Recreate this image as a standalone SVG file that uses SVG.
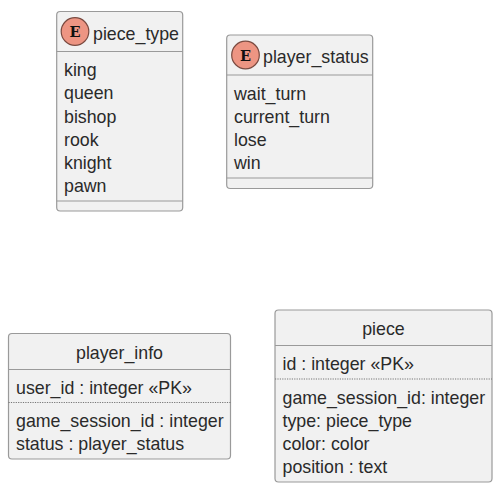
<svg xmlns="http://www.w3.org/2000/svg" width="501" height="488" viewBox="0 0 501 488">
<style>
.b{fill:#f1f1f1;stroke:#9a9a9a;stroke-width:1.2}
.l{stroke:#9a9a9a;stroke-width:1.2;fill:none}
.d{stroke:#777;stroke-width:1.2;fill:none;stroke-dasharray:1.2 1.2}
.c{fill:#ed9583;stroke:#7a4a40;stroke-width:1.2}
text{font-family:"Liberation Sans",Arial,sans-serif;font-size:17.8px;fill:#2a2a2a}
.m{text-anchor:middle}
.e{font-family:"DejaVu Serif",serif;font-weight:bold;font-size:14.5px;text-anchor:middle;fill:#111}
</style>
<rect width="501" height="488" fill="#fff"/>
<g id="connectors"/>
<g id="piece_type">
<rect class="b" x="56.7" y="11.5" width="126" height="199.5" rx="3.5"/>
<path class="l" d="M56.7 51.500H182.700M56.700 201H182.700"/>
<circle class="c" cx="75" cy="31.500" r="13.800"/>
<text class="e" x="75" y="37">E</text>
<text x="93" y="39.500">piece_type</text>
<text x="64" y="76">king</text>
<text x="64" y="99">queen</text>
<text x="64" y="122.500">bishop</text>
<text x="64" y="145.500">rook</text>
<text x="64" y="169">knight</text>
<text x="64" y="192">pawn</text>
</g>
<g id="player_status">
<rect class="b" x="226.700" y="35" width="146" height="153.500" rx="3.5"/>
<path class="l" d="M226.700 75H372.700M226.700 178H372.700"/>
<circle class="c" cx="245.500" cy="55" r="13.800"/>
<text class="e" x="245.500" y="60.500">E</text>
<text x="263" y="63">player_status</text>
<text x="234" y="99.500">wait_turn</text>
<text x="234" y="122.500">current_turn</text>
<text x="234" y="145.500">lose</text>
<text x="234" y="169">win</text>
</g>
<g id="player_info">
<rect class="b" x="8.500" y="333.500" width="222" height="125.500" rx="3.5"/>
<path class="l" d="M8.500 369.500H230.500"/>
<path class="d" d="M8.500 402.500H230.500"/>
<text class="m" x="119.500" y="358.500">player_info</text>
<text x="16" y="393.500">user_id : integer «PK»</text>
<text x="16" y="427">game_session_id : integer</text>
<text x="16" y="450">status : player_status</text>
</g>
<g id="piece">
<rect class="b" x="275" y="310" width="217" height="172" rx="3.5"/>
<path class="l" d="M275 345.500H492"/>
<path class="d" d="M275 379H492"/>
<text class="m" x="383.500" y="335">piece</text>
<text x="282.500" y="369.500">id : integer «PK»</text>
<text x="282.500" y="403.500">game_session_id: integer</text>
<text x="282.500" y="426.500">type: piece_type</text>
<text x="282.500" y="450">color: color</text>
<text x="282.500" y="473">position : text</text>
</g>
</svg>
